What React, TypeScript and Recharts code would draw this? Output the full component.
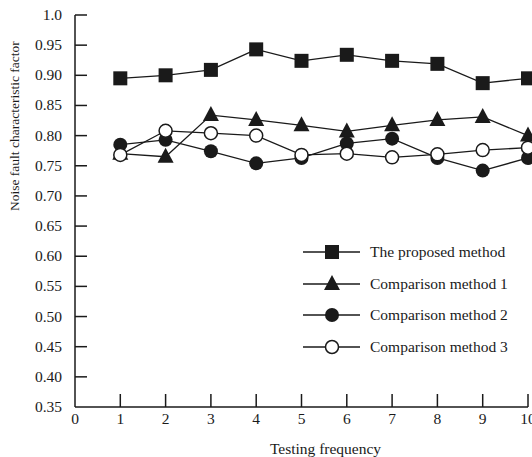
// Noise fault characteristic factor vs testing frequency, four methods.
import { LineChart, Line, XAxis, YAxis } from "recharts";

const frequency = [1, 2, 3, 4, 5, 6, 7, 8, 9, 10];
const proposed = [0.895, 0.9, 0.909, 0.943, 0.924, 0.934, 0.924, 0.919, 0.887, 0.895];
const method1 = [0.77, 0.765, 0.834, 0.826, 0.817, 0.807, 0.817, 0.826, 0.831, 0.8];
const method2 = [0.785, 0.793, 0.774, 0.754, 0.763, 0.787, 0.795, 0.763, 0.742, 0.763];
const method3 = [0.768, 0.808, 0.804, 0.8, 0.768, 0.77, 0.764, 0.769, 0.776, 0.78];
const xTicks = [0, 1, 2, 3, 4, 5, 6, 7, 8, 9, 10];
const yTicks = [0.35, 0.4, 0.45, 0.5, 0.55, 0.6, 0.65, 0.7, 0.75, 0.8, 0.85, 0.9, 0.95, 1.0];

const data = frequency.map((f, i) => ({
  f, proposed: proposed[i], m1: method1[i], m2: method2[i], m3: method3[i],
}));

const INK = "#1a1a1a";
const FONT = "'Liberation Serif', 'DejaVu Serif', serif";

type Shape = "square" | "triangle" | "circle" | "ring";
const SERIES: { key: string; name: string; shape: Shape }[] = [
  { key: "proposed", name: "The proposed method", shape: "square" },
  { key: "m1", name: "Comparison method 1", shape: "triangle" },
  { key: "m2", name: "Comparison method 2", shape: "circle" },
  { key: "m3", name: "Comparison method 3", shape: "ring" },
];

function Marker({ cx, cy, shape }: { cx: number; cy: number; shape: Shape }) {
  if (shape === "square") return <rect x={cx - 7} y={cy - 7} width={14} height={14} fill={INK} />;
  if (shape === "triangle")
    return <polygon points={`${cx},${cy - 9} ${cx - 8},${cy + 6} ${cx + 8},${cy + 6}`} fill={INK} />;
  if (shape === "circle") return <circle cx={cx} cy={cy} r={7} fill={INK} />;
  return <circle cx={cx} cy={cy} r={6.5} fill="#fff" stroke={INK} strokeWidth={1.5} />;
}

const dotFor = (shape: Shape) => (p: any) =>
  <Marker key={`${shape}-${p.index}`} cx={p.cx} cy={p.cy} shape={shape} />;

function YTick({ x, y, payload }: any) {
  const v = Number(payload.value);
  return (
    <g>
      {v > 0.36 && <line x1={x} x2={x + 12} y1={y} y2={y} stroke={INK} strokeWidth={1.5} />}
      <text x={x - 13} y={y} dy={5} textAnchor="end" fontSize={15.5} fontFamily={FONT} fill={INK}>
        {v === 1 ? "1.0" : v.toFixed(2)}
      </text>
    </g>
  );
}

function XTick({ x, y, payload }: any) {
  const v = Number(payload.value);
  return (
    <g>
      {v > 0 && <line x1={x} x2={x} y1={y} y2={y - 13} stroke={INK} strokeWidth={1.5} />}
      <text x={x} y={y} dy={17} textAnchor="middle" fontSize={15.5} fontFamily={FONT} fill={INK}>
        {v}
      </text>
    </g>
  );
}

function LegendBox() {
  return (
    <div style={{ position: "absolute", left: 303, top: 236, fontFamily: FONT, fontSize: 15.5, color: INK }}>
      {SERIES.map((s) => (
        <div key={s.key} style={{ display: "flex", alignItems: "center", height: 31.7, whiteSpace: "nowrap" }}>
          <svg width={60} height={24}>
            <line x1={0} x2={57} y1={12} y2={12} stroke={INK} strokeWidth={1.3} />
            <Marker cx={29} cy={12} shape={s.shape} />
          </svg>
          <span style={{ marginLeft: 7 }}>{s.name}</span>
        </div>
      ))}
    </div>
  );
}

export default function App() {
  return (
    <div style={{ position: "absolute", left: 0, top: 0, width: 532, height: 457, background: "#fff" }}>
      <LineChart width={532} height={457} data={data} margin={{ top: 15, right: 4, bottom: 0, left: 0 }}>
        <XAxis
          type="number" dataKey="f" domain={[0, 10]} ticks={xTicks} interval={0} height={50}
          tickSize={0} tickMargin={0} tick={<XTick />}
          axisLine={{ stroke: INK, strokeWidth: 1.5 }}
          label={{ value: "Testing frequency", position: "insideBottom", offset: 3, dx: 24, fontSize: 15.5, fontFamily: FONT, fill: INK }}
        />
        <YAxis
          type="number" domain={[0.35, 1.0]} ticks={yTicks} interval={0} width={75}
          tickSize={0} tickMargin={0} tick={<YTick />}
          axisLine={{ stroke: INK, strokeWidth: 1.5 }}
          label={{ value: "Noise fault characteristic factor", angle: -90, position: "insideLeft", offset: 14, fontSize: 13.5, fontFamily: FONT, fill: INK }}
        />
        {SERIES.map((s) => (
          <Line
            key={s.key} name={s.name} dataKey={s.key} stroke={INK} strokeWidth={1.3}
            dot={dotFor(s.shape)} activeDot={false} isAnimationActive={false}
          />
        ))}
      </LineChart>
      <LegendBox />
    </div>
  );
}
